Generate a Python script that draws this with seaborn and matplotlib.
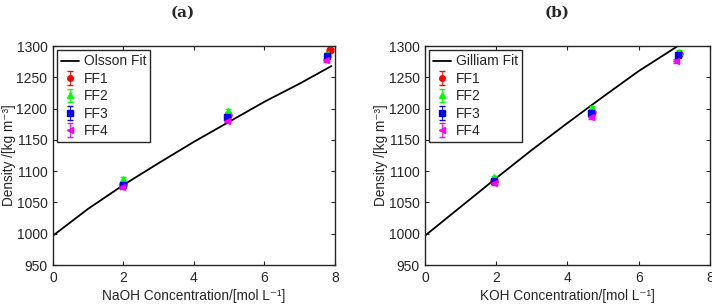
import numpy as np
import pandas as pd
import matplotlib
matplotlib.use("Agg")
import matplotlib.pyplot as plt
import seaborn as sns

sns.set_theme(style="white")
plt.rcParams['font.family'] = ['Liberation Sans', 'DejaVu Sans']

# Panel (a): NaOH
naoh_fit_x = [0, 1, 2, 3, 4, 5, 6, 7, 7.9]
naoh_fit_y = [997, 1040, 1078, 1113, 1147, 1179, 1211, 1240, 1268]
naoh_x = {"FF1": [2.0, 4.97, 7.85], "FF2": [2.0, 4.97, 7.8],
          "FF3": [1.98, 4.95, 7.78], "FF4": [1.97, 4.93, 7.75]}
naoh_y = {"FF1": [1080, 1190, 1293], "FF2": [1088, 1197, 1288],
          "FF3": [1078, 1186, 1284], "FF4": [1075, 1181, 1277]}

# Panel (b): KOH
koh_fit_x = [0, 1, 2, 3, 4, 5, 6, 7.1]
koh_fit_y = [997, 1043, 1089, 1134, 1177, 1219, 1260, 1300]
koh_x = {"FF1": [1.95, 4.68, 7.12], "FF2": [1.95, 4.7, 7.13],
         "FF3": [1.93, 4.67, 7.1], "FF4": [1.93, 4.65, 7.05]}
koh_y = {"FF1": [1085, 1195, 1288], "FF2": [1090, 1201, 1291],
         "FF3": [1084, 1193, 1285], "FF4": [1081, 1187, 1276]}

err = {"FF1": 3, "FF2": 3, "FF3": 3, "FF4": 3}
series = ["FF1", "FF2", "FF3", "FF4"]
colors = {"FF1": "#ff0000", "FF2": "#00ff00", "FF3": "#0000ff", "FF4": "#ff00ff"}
markers = {"FF1": "o", "FF2": "^", "FF3": "s", "FF4": "<"}

fig = plt.figure(figsize=(7.12, 3.05), dpi=100)
axa = fig.add_axes([0.0744, 0.131, 0.396, 0.718])
axb = fig.add_axes([0.597, 0.131, 0.400, 0.718])

def draw(ax, fx, fy, fitlabel, xs, ys, xlabel, title, ylab_x, title_x):
    sns.lineplot(x=fx, y=fy, ax=ax, color="black", lw=1.3, label=fitlabel)
    for s in series:
        ax.errorbar(xs[s], ys[s], yerr=err[s], fmt=markers[s], color=colors[s],
                    ms=5, elinewidth=0.6, capsize=2, label=s)
    ax.set_xlim(0, 8)
    ax.set_ylim(950, 1300)
    ax.set_xticks([0, 2, 4, 6, 8])
    ax.set_yticks(np.arange(950, 1301, 50))
    ax.tick_params(direction="in", length=3, width=0.8, labelsize=10, pad=4,
                   colors="#262626", top=True, right=True, bottom=True, left=True)
    for sp in ax.spines.values():
        sp.set_color("#262626")
        sp.set_linewidth(1.0)
    ax.set_xlabel(xlabel, fontsize=9.8, color="#262626", va="center")
    ax.xaxis.set_label_coords(0.5, -0.14)
    ax.set_ylabel("Density /[kg m\u207b\u00b3]", fontsize=9.8, color="#262626", va="center")
    ax.yaxis.set_label_coords(ylab_x, 0.5)
    leg = ax.legend(loc="upper left", fontsize=10, frameon=True, fancybox=False,
                    edgecolor="#262626", framealpha=1, borderpad=0.3,
                    handlelength=1.3, handletextpad=0.3, labelspacing=0.25,
                    borderaxespad=0.3, markerscale=0.8)
    leg.get_frame().set_linewidth(1.0)
    fig.text(title_x, 0.96, title,
             ha="center", va="center", fontsize=11, fontweight="bold",
             family="DejaVu Serif")

draw(axa, naoh_fit_x, naoh_fit_y, "Olsson Fit", naoh_x, naoh_y,
     "NaOH Concentration/[mol L\u207b\u00b9]", "(a)", -0.155, 183 / 712)
draw(axb, koh_fit_x, koh_fit_y, "Gilliam Fit", koh_x, koh_y,
     "KOH Concentration/[mol L\u207b\u00b9]", "(b)", -0.155, 557 / 712)

fig.savefig("out.png", dpi=100)
